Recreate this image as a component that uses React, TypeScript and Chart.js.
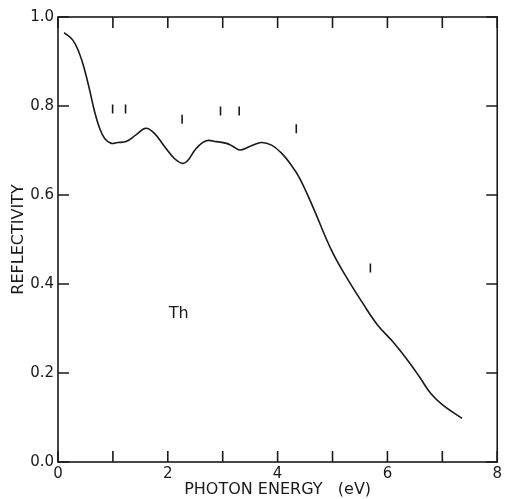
import React, { useEffect, useRef } from "react";
import { Chart, registerables } from "chart.js";

Chart.register(...registerables);

const energy = [0.11, 0.27, 0.39, 0.485, 0.576, 0.667, 0.758, 0.85, 0.97, 1.09, 1.24, 1.42, 1.6, 1.76, 1.94, 2.12, 2.27, 2.36, 2.52, 2.7, 2.885, 3.07, 3.19, 3.31, 3.49, 3.7, 3.89, 4.07, 4.25, 4.4, 4.64, 4.98, 5.25, 5.55, 5.82, 6.1, 6.34, 6.58, 6.79, 7.01, 7.36];
const reflectivity = [0.965, 0.948, 0.918, 0.881, 0.836, 0.787, 0.75, 0.727, 0.716, 0.718, 0.72, 0.735, 0.75, 0.738, 0.709, 0.682, 0.671, 0.677, 0.705, 0.722, 0.72, 0.716, 0.709, 0.701, 0.709, 0.718, 0.712, 0.694, 0.667, 0.638, 0.574, 0.476, 0.416, 0.357, 0.308, 0.27, 0.233, 0.192, 0.154, 0.128, 0.098];
const markerEnergy = [0.995, 1.23, 2.26, 2.96, 3.3, 4.34, 5.69];
const markerLevel = [0.793, 0.793, 0.77, 0.789, 0.789, 0.749, 0.436];
const xTicks = [0, 1, 2, 3, 4, 5, 6, 7, 8];
const yTicks = [0, 0.2, 0.4, 0.6, 0.8, 1.0];
const sampleLabel = "Th";
const sampleLabelPos = { x: 2.2, y: 0.333 };

const FONT = "'DejaVu Sans', 'Liberation Sans', Arial, sans-serif";
const INK = "#1a1a1a";

const framePlugin = {
  id: "frame",
  afterDraw(chart: any) {
    const { ctx, chartArea: a, scales } = chart;
    const xs = scales.x;
    const ys = scales.y;
    ctx.save();
    ctx.strokeStyle = INK;
    ctx.lineWidth = 1.6;
    ctx.strokeRect(a.left, a.top, a.right - a.left, a.bottom - a.top);
    const tl = 11;
    ctx.beginPath();
    xTicks.forEach((v) => {
      const px = xs.getPixelForValue(v);
      ctx.moveTo(px, a.bottom);
      ctx.lineTo(px, a.bottom - tl);
      ctx.moveTo(px, a.top);
      ctx.lineTo(px, a.top + tl);
    });
    yTicks.forEach((v) => {
      const py = ys.getPixelForValue(v);
      ctx.moveTo(a.left, py);
      ctx.lineTo(a.left + tl, py);
      ctx.moveTo(a.right, py);
      ctx.lineTo(a.right - tl, py);
    });
    ctx.stroke();
    ctx.fillStyle = INK;
    ctx.font = `16px ${FONT}`;
    ctx.textAlign = "center";
    ctx.textBaseline = "middle";
    ctx.fillText(sampleLabel, xs.getPixelForValue(sampleLabelPos.x), ys.getPixelForValue(sampleLabelPos.y));
    ctx.restore();
  },
};

export default function App() {
  const ref = useRef<HTMLCanvasElement | null>(null);
  useEffect(() => {
    if (!ref.current) return;
    const chart = new Chart(ref.current, {
      type: "scatter",
      data: {
        datasets: [
          {
            data: energy.map((x, i) => ({ x, y: reflectivity[i] })),
            showLine: true,
            borderColor: INK,
            borderWidth: 1.6,
            pointRadius: 0,
            tension: 0.4,
            fill: false,
          },
          {
            data: markerEnergy.map((x, i) => ({ x, y: markerLevel[i] })),
            showLine: false,
            pointStyle: "line",
            rotation: 90,
            pointRadius: 4.5,
            borderColor: INK,
            borderWidth: 1.6,
            backgroundColor: INK,
          },
        ],
      },
      options: {
        animation: false,
        responsive: false,
        maintainAspectRatio: false,
        events: [],
        layout: { padding: { top: 17, right: 7, left: 0, bottom: 0 } },
        plugins: { legend: { display: false }, tooltip: { enabled: false } },
        scales: {
          x: {
            type: "linear",
            min: 0,
            max: 8,
            grid: { display: false, drawTicks: false },
            border: { display: false },
            ticks: {
              stepSize: 1,
              padding: 3,
              color: INK,
              font: { family: FONT, size: 15 },
              maxRotation: 0,
              callback: (v: any) => (Number(v) % 2 === 0 ? String(v) : ""),
            },
            title: {
              display: true,
              text: "PHOTON ENERGY   (eV)",
              color: INK,
              font: { family: FONT, size: 16 },
              padding: { top: 0, bottom: 0 },
            },
            afterFit: (s: any) => {
              s.height = 37;
            },
          },
          y: {
            type: "linear",
            min: 0,
            max: 1,
            grid: { display: false, drawTicks: false },
            border: { display: false },
            ticks: {
              stepSize: 0.2,
              padding: 4,
              color: INK,
              font: { family: FONT, size: 15 },
              callback: (v: any) => Number(v).toFixed(1),
            },
            title: {
              display: true,
              text: "REFLECTIVITY",
              color: INK,
              font: { family: FONT, size: 16 },
              padding: { top: 9, bottom: 0 },
            },
            afterFit: (s: any) => {
              s.width = 58;
            },
          },
        },
      },
      plugins: [framePlugin],
    } as any);
    return () => chart.destroy();
  }, []);
  return (
    <div style={{ position: "fixed", left: 0, top: 0, width: 505, height: 499, background: "#fff" }}>
      <canvas ref={ref} width={505} height={499} style={{ width: 505, height: 499, display: "block" }} />
    </div>
  );
}
